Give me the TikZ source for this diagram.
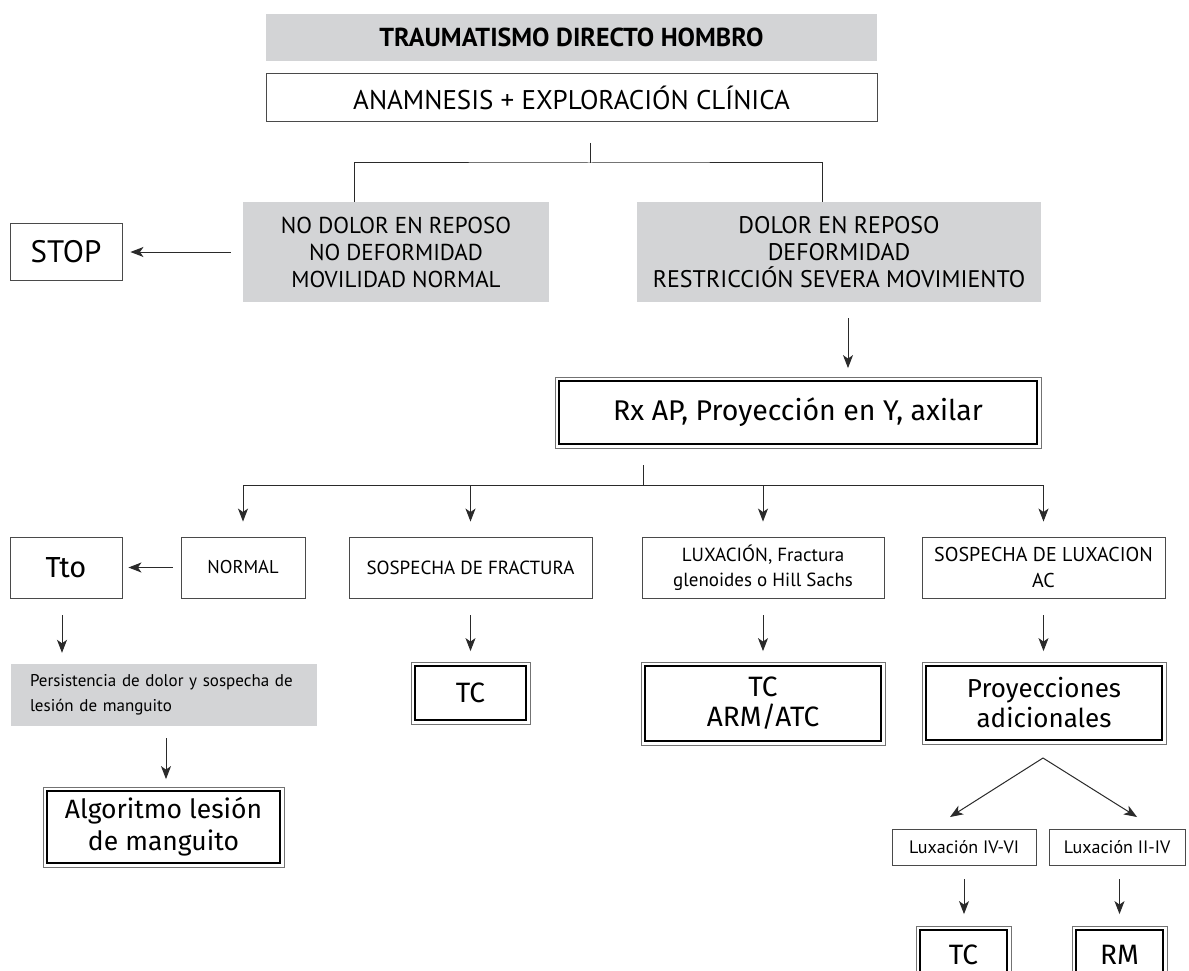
\documentclass[tikz,border=0pt]{standalone}
\usepackage{fontspec}
\setmainfont{PT Sans}
\newfontfamily\ubu{Fira Sans}
\usetikzlibrary{arrows.meta}
\definecolor{boxgray}{HTML}{D3D4D6}
\definecolor{linec}{HTML}{2A2A2A}
\definecolor{bordc}{HTML}{4A4A4A}
\newcommand\fsz[2]{\fontsize{#1}{#2}\selectfont}
\newcommand\dframe[1]{\draw[ofr] ([shift={(-3.2pt,3.2pt)}]#1.north west) rectangle ([shift={(3.2pt,-3.2pt)}]#1.south east);}
\begin{document}
\begin{tikzpicture}[x=1pt,y=-1pt,
  every node/.style={inner sep=0pt, align=center, text=black},
  grayb/.style={fill=boxgray},
  wbox/.style={draw=bordc, line width=0.9pt, fill=white},
  dbox/.style={draw=black, line width=1.8pt, fill=white, font=\ubu},
  ofr/.style={draw=black!55, line width=0.8pt},
  ln/.style={draw=linec, line width=1pt},
  arr/.style={ln, -{Stealth[length=13pt,width=10pt,inset=3.5pt]}},
]
\useasboundingbox (0,0) rectangle (1189,971);
\fill[white] (0,0) rectangle (1189,971);

% top
\node[grayb, minimum width=611pt, minimum height=47pt, font=\fsz{26}{30}\bfseries] (title) at (571.5,37.5) {TRAUMATISMO DIRECTO HOMBRO};
\node[wbox, minimum width=611pt, minimum height=48pt, font=\fsz{27}{30}] (anam) at (571.5,97.5) {ANAMNESIS + EXPLORACIÓN CLÍNICA};

\node[grayb, minimum width=306pt, minimum height=100pt, font=\fsz{23}{27}] (nodl) at (396,252) {NO DOLOR EN REPOSO\\NO DEFORMIDAD\\MOVILIDAD NORMAL};
\node[grayb, minimum width=404pt, minimum height=100pt, font=\fsz{24}{27}] (dol) at (839,252) {DOLOR EN REPOSO\\DEFORMIDAD\\RESTRICCIÓN SEVERA MOVIMIENTO};
\node[wbox, minimum width=112pt, minimum height=57pt, font=\fsz{31}{34}] (stop) at (66,252) {STOP};

\node[dbox, minimum width=478pt, minimum height=63pt, font=\ubu\fsz{28.5}{32}] (rx) at (798,412.5) {Rx AP, Proyección en Y, axilar};

% second level
\node[wbox, minimum width=112pt, minimum height=61pt, font=\ubu\fsz{29}{33}] (tto) at (66,567.5) {Tto};
\node[wbox, minimum width=124pt, minimum height=61pt, font=\fsz{18.5}{22}] (normal) at (243,567.5) {NORMAL};
\node[wbox, minimum width=243pt, minimum height=61pt, font=\fsz{19}{23}] (sospF) at (470.5,567.5) {SOSPECHA DE FRACTURA};
\node[wbox, minimum width=242pt, minimum height=61pt, font=\fsz{19}{25}] (lux) at (763,567.5) {LUXACIÓN, Fractura\\glenoides o Hill Sachs};
\node[wbox, minimum width=243pt, minimum height=61pt, font=\fsz{20}{26}] (sospAC) at (1043.5,567.5) {SOSPECHA DE LUXACION\\AC};

\node[grayb, minimum width=306pt, minimum height=62pt, text width=268pt, align=left, font=\fsz{17}{25}] (pers) at (164,695) {Persistencia de dolor y sospecha de\\lesión de manguito};
\node[dbox, minimum width=233pt, minimum height=72pt, font=\ubu\fsz{26.5}{32}] (algo) at (163.5,827) {Algoritmo lesión\\de manguito};

\node[dbox, minimum width=111pt, minimum height=54pt, font=\ubu\fsz{28}{30}] (tcF) at (470.5,693) {TC};
\node[dbox, minimum width=236pt, minimum height=75pt, font=\ubu\fsz{28}{30}] (tcarm) at (763,703.5) {TC\\ARM/ATC};
\node[dbox, minimum width=236pt, minimum height=74pt, font=\ubu\fsz{26}{30}] (proy) at (1044,703) {Proyecciones\\adicionales};

\node[wbox, minimum width=144pt, minimum height=36pt, font=\fsz{18}{20}] (lux46) at (964,847) {Luxación IV-VI};
\node[wbox, minimum width=136pt, minimum height=36pt, font=\fsz{18}{20}] (lux24) at (1117,847) {Luxación II-IV};

\node[dbox, minimum width=87pt, minimum height=50pt, font=\ubu\fsz{28}{30}] (tc2) at (963.5,955) {TC};
\node[dbox, minimum width=87pt, minimum height=50pt, font=\ubu\fsz{28}{30}] (rm) at (1119.5,955) {RM};

\dframe{rx}\dframe{algo}\dframe{tcF}\dframe{tcarm}\dframe{proy}\dframe{tc2}\dframe{rm}

% connectors
\coordinate (s1) at (590,143);
\coordinate (j1) at (590,163);
\coordinate (bl) at (354,163);
\coordinate (br) at (822,163);
\draw[ln] (s1) -- (j1);
\draw[ln] (nodl.north -| bl) |- (j1) -| (dol.north -| br);

\draw[arr, shorten <=12pt, shorten >=8pt] (nodl.west) -- (nodl.west -| stop.east);

\coordinate (ax) at (848,0);
\draw[arr, shorten <=16pt, shorten >=12pt] (dol.south -| ax) -- (rx.north -| ax);

\coordinate (s2) at (643,465);
\coordinate (j2) at (643,485);
\draw[ln] (s2) -- (j2);
\draw[arr, shorten >=15pt] (j2) -| (normal.north);
\draw[arr, shorten >=15pt] (j2) -| (sospF.north);
\draw[arr, shorten >=15pt] (j2) -| (lux.north);
\draw[arr, shorten >=15pt] (j2) -| (sospAC.north);

\draw[arr, shorten <=8pt, shorten >=6pt] (normal.west) -- (normal.west -| tto.east);

\coordinate (tx) at (62,0);
\draw[arr, shorten <=17pt, shorten >=11pt] (tto.south -| tx) -- (pers.north -| tx);
\coordinate (px) at (166,0);
\draw[arr, shorten <=12pt, shorten >=11pt] (pers.south -| px) -- (algo.north -| px);

\draw[arr, shorten <=17pt, shorten >=14pt] (sospF.south) -- (tcF.north -| sospF.south);
\draw[arr, shorten <=17pt, shorten >=14pt] (lux.south) -- (tcarm.north);
\draw[arr, shorten <=17pt, shorten >=14pt] (sospAC.south) -- (proy.north -| sospAC.south);

\coordinate (pd) at (1043,758);
\coordinate (pl) at (950,817);
\coordinate (pr) at (1137,817);
\draw[arr] (pd) -- (pl);
\draw[arr] (pd) -- (pr);

\draw[arr, shorten <=14pt, shorten >=15pt] (lux46.south) -- (tc2.north -| lux46.south);
\draw[arr, shorten <=14pt, shorten >=15pt] (lux24.south -| rm.north) -- (rm.north);
\end{tikzpicture}
\end{document}
